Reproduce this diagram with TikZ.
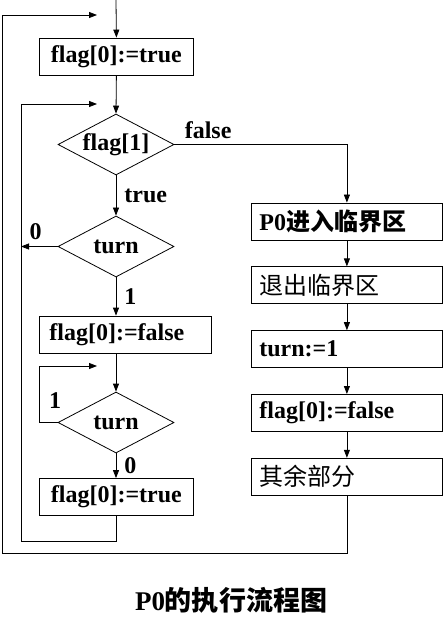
\documentclass[tikz,border=0pt]{standalone}
\usepackage{fontspec}
\setmainfont{Liberation Serif}
\newfontfamily\cjk{Noto Sans CJK SC}
\usetikzlibrary{arrows.meta, shapes.geometric, positioning, calc}

\begin{document}
\begin{tikzpicture}[x=1pt, y=1pt, >={Triangle[length=8pt,width=6pt]}, line width=0.8pt,
    txt/.style={font=\fontsize{24}{28}\selectfont\bfseries},
    box/.style={draw, txt, anchor=west, minimum height=37pt, inner xsep=10pt},
    rbox/.style={draw, txt, text width=175pt, align=left, inner xsep=8pt, minimum height=37pt},
    test/.style={draw, txt, diamond, aspect=1.9, minimum width=116pt, minimum height=61pt, inner sep=0pt},
    lbl/.style={txt, inner sep=2pt}]
  \useasboundingbox (0,0) rectangle (443,-617);

  % left column
  \node[box, minimum width=154pt] (init) at (39,-56.5) {flag[0]:=true};
  \node[test] (chk) at (116,-144.5) {flag[1]};
  \node[test] (turnA) at (116,-246.5) {turn};
  \node[box, text width=152pt, align=left] (drop) at (39,-334.5) {flag[0]:=false};
  \node[test] (turnB) at (116,-422.5) {turn};
  \node[box, minimum width=154pt] (raise) at (39,-497) {flag[0]:=true};

  % right column
  \node[rbox, anchor=west] (enter) at (251,-221.5) {P0{\cjk 进入临界区}};
  \node[rbox, below=26pt of enter] (leave) {{\cjk\mdseries 退出临界区}};
  \node[rbox, below=26pt of leave] (setturn) {turn:=1};
  \node[rbox, below=26pt of setturn] (clear) {flag[0]:=false};
  \node[rbox, below=26pt of clear] (rest) {{\cjk\mdseries 其余部分}};

  % loop points
  \coordinate (entry) at (116,0);
  \coordinate (outerend) at (97,-15);
  \coordinate (innerend) at (97,-104);
  \coordinate (loopend) at (97,-366);
  \coordinate (loopcorner) at (39,-366);
  \coordinate (innerbot) at (21,-541);
  \coordinate (outerbot) at (2,-553);

  \draw[->] (entry) -- (init.north);
  \draw[->] (init.south) -- (chk.north);
  \draw[->] (chk.south) -- node[lbl, right=6pt] {true} (turnA.north);
  \draw[->] (turnA.south) -- node[lbl, right=6pt] {1} (turnA.south |- drop.north);
  \draw[->] (drop.south -| turnB) -- (turnB.north);
  \draw[->] (turnB.south) -- node[lbl, right=6pt] {0} (turnB.south |- raise.north);
  \draw[->] (turnA.west) -- node[lbl, above=4pt, pos=0.6] {0} (turnA.west -| innerbot);
  \draw[->] (turnB.west) -| (loopcorner) -- (loopend);
  \node[lbl] at ($(turnB.west -| loopcorner)+(16,22)$) {1};
  \draw[->] (raise.south) |- (innerbot) |- (innerend);

  \draw[->] (chk.east) node[lbl, anchor=south west, xshift=8pt, yshift=3pt] {false} -| (enter.north);
  \draw[->] (enter.south) -- (leave.north);
  \draw[->] (leave.south) -- (setturn.north);
  \draw[->] (setturn.south) -- (clear.north);
  \draw[->] (clear.south) -- (rest.north);
  \draw[->] (rest.south) |- (outerbot) |- (outerend);

  \node[font=\fontsize{27}{32}\selectfont\bfseries] (title) at (231,-600) {P0{\cjk 的执行流程图}};
\end{tikzpicture}
\end{document}
